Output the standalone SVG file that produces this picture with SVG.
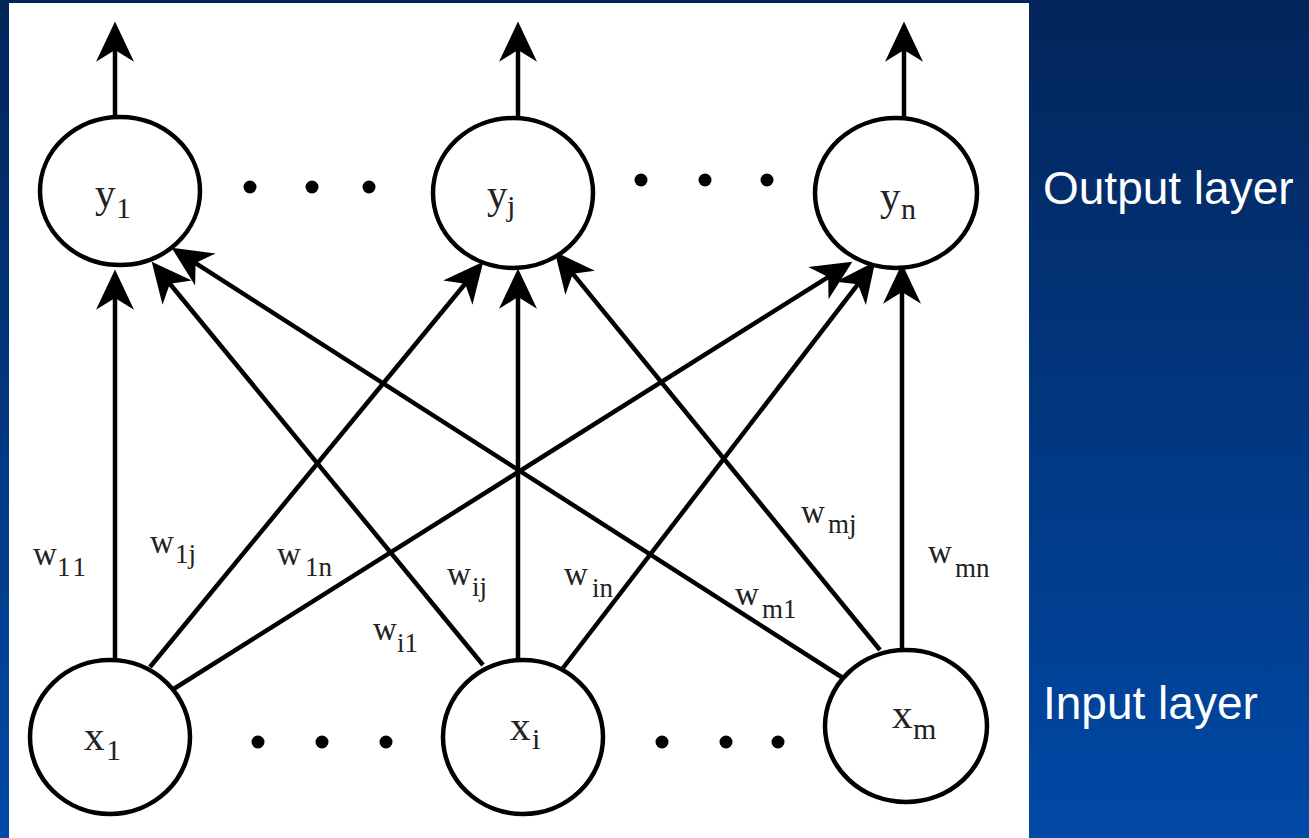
<svg xmlns="http://www.w3.org/2000/svg" width="1309" height="838" viewBox="0 0 1309 838">
<defs>
<linearGradient id="bg" x1="0" y1="0" x2="0" y2="1">
<stop offset="0" stop-color="#03255a"/>
<stop offset="1" stop-color="#0049a6"/>
</linearGradient>
<marker id="ah" markerUnits="userSpaceOnUse" markerWidth="42" markerHeight="38" viewBox="0 0 38 36" refX="30" refY="18" orient="auto">
<path d="M0,0 L38,18 L0,36 L11,18 Z" fill="#000"/>
</marker>
<style>
.node{fill:#fff;stroke:#000;stroke-width:4.5}
.edge{stroke:#000;stroke-width:4.5;fill:none;marker-end:url(#ah)}
.lbl{font-family:"Liberation Serif","Times New Roman",serif;fill:#222}
.big{font-size:41px}
.sub{font-size:30px}
.w{font-size:33px}
.ws{font-size:27px}
.side{font-family:"Liberation Sans",Arial,sans-serif;font-size:46px;fill:#fff}
.dot{fill:#000}
</style>
</defs>
<rect x="0" y="0" width="1309" height="838" fill="url(#bg)"/>
<rect x="9" y="3" width="1020" height="835" fill="#fff"/>

<g id="connectors">
<line class="edge" x1="115" y1="117" x2="115" y2="30"/>
<line class="edge" x1="518" y1="118" x2="518" y2="30"/>
<line class="edge" x1="904" y1="118" x2="904" y2="30"/>
<line class="edge" x1="115" y1="660" x2="115" y2="278"/>
<line class="edge" x1="518" y1="660" x2="518" y2="277"/>
<line class="edge" x1="902" y1="650" x2="902" y2="272"/>
<line class="edge" x1="150" y1="667" x2="477.9" y2="268.2"/>
<line class="edge" x1="172" y1="690" x2="845.2" y2="266.3"/>
<line class="edge" x1="483" y1="665" x2="157.1" y2="268.2"/>
<line class="edge" x1="563" y1="668" x2="870.1" y2="268.3"/>
<line class="edge" x1="843" y1="678" x2="178.7" y2="252.3"/>
<line class="edge" x1="880" y1="650" x2="560.1" y2="258.2"/>
</g>

<g id="y1">
<ellipse class="node" cx="120" cy="191" rx="80" ry="74"/>
<text class="lbl big" x="95" y="207">y<tspan class="sub" x="116" y="218">1</tspan></text>
</g>
<g id="yj">
<ellipse class="node" cx="513" cy="193" rx="80" ry="75"/>
<text class="lbl big" x="487" y="208">y<tspan class="sub" x="507" y="216">j</tspan></text>
</g>
<g id="yn">
<ellipse class="node" cx="896" cy="193" rx="81" ry="75"/>
<text class="lbl big" x="880" y="210">y<tspan class="sub" x="901" y="219">n</tspan></text>
</g>
<g id="x1">
<ellipse class="node" cx="110" cy="737" rx="80" ry="77"/>
<text class="lbl big" x="84" y="750">x<tspan class="sub" x="106" y="760">1</tspan></text>
</g>
<g id="xi">
<ellipse class="node" cx="523" cy="737" rx="80" ry="77"/>
<text class="lbl big" x="510" y="740">x<tspan class="sub" x="532" y="749">i</tspan></text>
</g>
<g id="xm">
<ellipse class="node" cx="906" cy="726" rx="81" ry="76"/>
<text class="lbl big" x="892" y="728">x<tspan class="sub" x="913" y="739">m</tspan></text>
</g>

<g id="dots">
<circle class="dot" cx="250" cy="187" r="6.5"/>
<circle class="dot" cx="312" cy="187" r="6.5"/>
<circle class="dot" cx="369" cy="187" r="6.5"/>
<circle class="dot" cx="641" cy="180" r="6.5"/>
<circle class="dot" cx="705" cy="180" r="6.5"/>
<circle class="dot" cx="767" cy="180" r="6.5"/>
<circle class="dot" cx="258" cy="742" r="6.5"/>
<circle class="dot" cx="322" cy="742" r="6.5"/>
<circle class="dot" cx="386" cy="742" r="6.5"/>
<circle class="dot" cx="662" cy="742" r="6.5"/>
<circle class="dot" cx="726" cy="742" r="6.5"/>
<circle class="dot" cx="778" cy="742" r="6.5"/>
</g>

<g id="weights">
<text class="lbl w" x="33" y="565">w<tspan class="ws" x="57" y="576" letter-spacing="3">11</tspan></text>
<text class="lbl w" x="150" y="553">w<tspan class="ws" x="175" y="563">1j</tspan></text>
<text class="lbl w" x="277" y="565">w<tspan class="ws" x="305" y="576">1n</tspan></text>
<text class="lbl w" x="373" y="640">w<tspan class="ws" x="397" y="652">i1</tspan></text>
<text class="lbl w" x="447" y="585">w<tspan class="ws" x="472" y="596">ij</tspan></text>
<text class="lbl w" x="564" y="585">w<tspan class="ws" x="592" y="597">in</tspan></text>
<text class="lbl w" x="735" y="605">w<tspan class="ws" x="762" y="618">m1</tspan></text>
<text class="lbl w" x="801" y="523">w<tspan class="ws" x="828" y="533">mj</tspan></text>
<text class="lbl w" x="928" y="563">w<tspan class="ws" x="955" y="577">mn</tspan></text>
</g>

<text class="side" x="1043" y="204">Output layer</text>
<text class="side" x="1043" y="719">Input layer</text>
</svg>
